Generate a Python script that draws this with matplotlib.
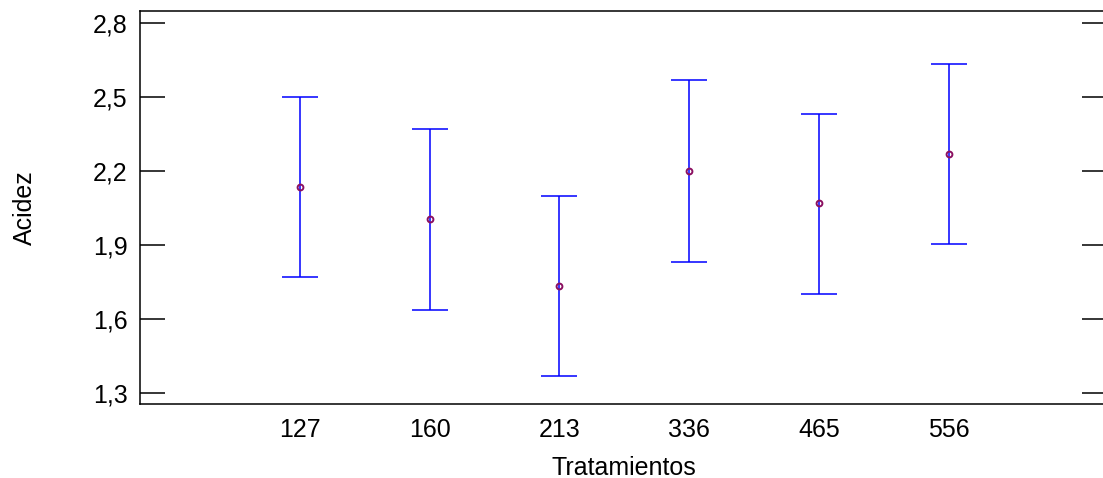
import matplotlib
matplotlib.use('Agg')
import matplotlib.pyplot as plt
import numpy as np

# data
tratamientos = ['127', '160', '213', '336', '465', '556']
medias = [2.135, 2.005, 1.733, 2.200, 2.070, 2.269]
limite_inf = [1.770, 1.636, 1.368, 1.830, 1.701, 1.903]
limite_sup = [2.500, 2.370, 2.098, 2.569, 2.431, 2.634]
yticks = [1.3, 1.6, 1.9, 2.2, 2.5, 2.8]
ytick_labels = ['1,3', '1,6', '1,9', '2,2', '2,5', '2,8']


def main():
    plt.rcParams['font.family'] = ['Liberation Sans', 'DejaVu Sans']
    fig = plt.figure(figsize=(11.03, 4.78), dpi=100)
    ax = fig.add_axes([140 / 1103, 74 / 478, 1 - 140 / 1103 + 0.004, 393 / 478])

    x = np.arange(len(tratamientos))
    medias_arr = np.array(medias)
    yerr = [medias_arr - np.array(limite_inf), np.array(limite_sup) - medias_arr]

    ax.errorbar(x, medias_arr, yerr=yerr, fmt='none', ecolor='#0000ff',
                elinewidth=1.1, capsize=13, capthick=1.1)
    ax.plot(x, medias_arr, 'o', ms=4.2, mfc='none', mec='#8b1060', mew=1.4)

    ax.set_xlim(-1.23, 6.22)
    ax.set_ylim(1.254, 2.849)
    ax.set_xticks(x)
    ax.set_xticklabels(tratamientos, fontsize=18)
    ax.tick_params(axis='x', length=0, pad=10)
    ax.set_yticks(yticks)
    ax.set_yticklabels(ytick_labels, fontsize=18)
    ax.tick_params(axis='y', direction='in', length=18, width=1.1,
                   left=True, right=True, pad=9)
    for s in ax.spines.values():
        s.set_linewidth(1.1)

    ax.set_xlabel('Tratamientos', fontsize=18, labelpad=10)
    ax.set_ylabel('Acidez', fontsize=18, labelpad=40)

    fig.savefig('out.png', dpi=100)


main()
